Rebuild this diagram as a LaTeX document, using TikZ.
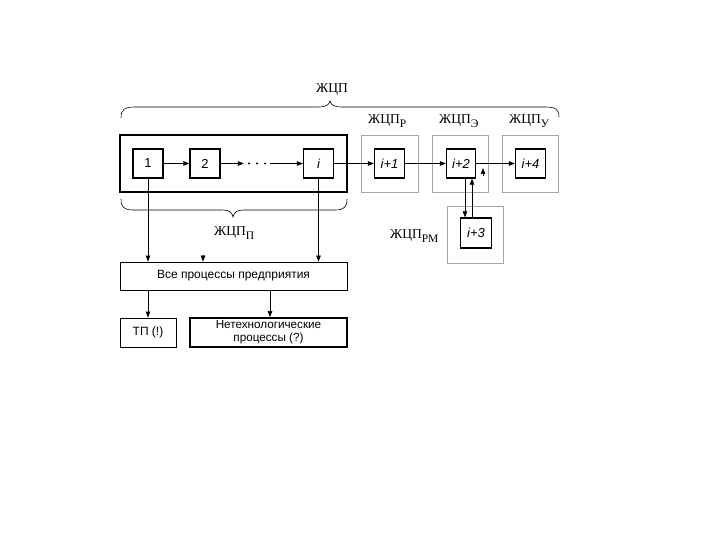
\documentclass[tikz,border=0pt]{standalone}
\usepackage{fontspec}
\setmainfont{Liberation Serif}
\newfontfamily\sansf{Liberation Sans}
\usetikzlibrary{arrows.meta}
\newcommand{\lsub}[1]{\raisebox{-4pt}{\fontsize{11.5}{12}\selectfont #1}}
\begin{document}
\begin{tikzpicture}[x=1pt,y=-1pt,
  box/.style={draw=black,line width=1.3pt,fill=white,inner sep=0pt,font=\sansf\fontsize{13}{14}\selectfont},
  graybox/.style={draw=gray!70,line width=0.7pt,inner sep=0pt},
  lab/.style={font=\fontsize{13.5}{14}\selectfont,inner sep=0pt},
  txt/.style={inner sep=0pt,font=\sansf\fontsize{12}{14}\selectfont},
  arr/.style={line width=0.6pt,-{Triangle[length=6pt,width=4.5pt]}},
  ln/.style={line width=0.6pt}]
\useasboundingbox (0,0) rectangle (720,540);
% outer boxes
\node[draw=black,line width=2.4pt,minimum width=227pt,minimum height=57pt,inner sep=0pt] (outer) at (233.5,163.5) {};
\node[graybox,minimum width=57pt,minimum height=57pt] (gR) at (389.5,163.5) {};
\node[graybox,minimum width=56pt,minimum height=57pt] (gE) at (460,163.5) {};
\node[graybox,minimum width=56pt,minimum height=57pt] (gU) at (530,163.5) {};
\node[graybox,minimum width=56pt,minimum height=57pt] (gRM) at (475,234.5) {};
% inner boxes
\node[box,minimum width=30pt,minimum height=29pt] (b1) at (148,163.5) {1};
\node[box,minimum width=30pt,minimum height=29pt] (b2) at (205,163.5) {2};
\node[inner sep=0pt,minimum width=26pt,minimum height=3pt] (dots) at (257,163.5) {};
\foreach \dx in {-8,0,8} \fill (dots.center) ++(\dx,0) circle (1.2pt);
\node[box,minimum width=30pt,minimum height=29pt] (bi) at (318.5,163.5) {\itshape i};
\node[box,minimum width=30pt,minimum height=29pt] (bi1) at (389.5,163.5) {\itshape i+1};
\node[box,minimum width=29pt,minimum height=29pt] (bi2) at (461,163.5) {\itshape i+2};
\node[box,minimum width=30pt,minimum height=29pt] (bi4) at (530.5,163.5) {\itshape i+4};
\node[box,minimum width=31pt,minimum height=30pt] (bi3) at (476,233) {\itshape i+3};
% lower boxes
\node[txt,draw=black,line width=0.8pt,minimum width=227pt,minimum height=28pt] (all) at (233.5,276) {Все процессы предприятия};
\node[txt,draw=black,line width=0.8pt,minimum width=56pt,minimum height=29pt] (tp) at (148,332.5) {ТП (!)};
\node[txt,draw=black,line width=1.8pt,minimum width=157pt,minimum height=29pt,align=center,font=\sansf\fontsize{11.7}{13}\selectfont] (nt) at (268.5,332.5) {Нетехнологические\\процессы (?)};
% labels
\node[lab] (lZ) at (332,90) {ЖЦП};
\node[lab,anchor=west] (lR) at (368,121) {ЖЦП\lsub{Р}};
\node[lab,anchor=west] (lE) at (439,121) {ЖЦП\lsub{Э}};
\node[lab,anchor=west] (lU) at (509,121) {ЖЦП\lsub{У}};
\node[lab,anchor=west] (lP) at (214,233) {ЖЦП\lsub{П}};
\node[lab,anchor=west] (lRM) at (390,236) {ЖЦП\lsub{РМ}};
% braces
\draw[ln] (121,118) .. controls (121,109) and (125,107) .. (135,107) -- (318,107)
  .. controls (326,107) and (329,105) .. (330,101) .. controls (331,105) and (334,107) .. (342,107)
  -- (545,107) .. controls (555,107) and (559,109) .. (559,117);
\draw[ln] (121,199) .. controls (121,207) and (124,210) .. (133,210) -- (222,210)
  .. controls (229,210) and (232,212) .. (233,217) .. controls (234,212) and (237,210) .. (244,210)
  -- (335,210) .. controls (344,210) and (347,207) .. (347,199);
% horizontal connectors
\draw[arr] (b1) -- (b2);
\draw[arr] (b2) -- (dots);
\draw[arr] (dots) -- (bi);
\draw[arr] (bi) -- (bi1);
\draw[arr] (bi1) -- (bi2);
\draw[arr] (bi2) -- (bi4);
% vertical connectors i+2 / i+3
\coordinate (xl) at (465,0);
\coordinate (xr) at (472,0);
\draw[arr] (bi2.south -| xl) -- (bi3.north -| xl);
\draw[arr] (bi3.north -| xr) -- (bi2.south -| xr);
% stray arrowheads
\coordinate (u1) at (483,176);
\coordinate (u2) at (483,168);
\draw[arr] (u1) -- (u2);
\coordinate (d1) at (203,255);
\draw[arr] (d1) -- (d1 |- all.north);
% down connectors
\coordinate (xa) at (148,0);
\coordinate (xb) at (270,0);
\draw[arr] (b1.south) -- (b1.south |- all.north);
\draw[arr] (bi.south) -- (bi.south |- all.north);
\draw[arr] (xa |- all.south) -- (tp.north);
\draw[arr] (xb |- all.south) -- (xb |- nt.north);
\end{tikzpicture}
\end{document}
